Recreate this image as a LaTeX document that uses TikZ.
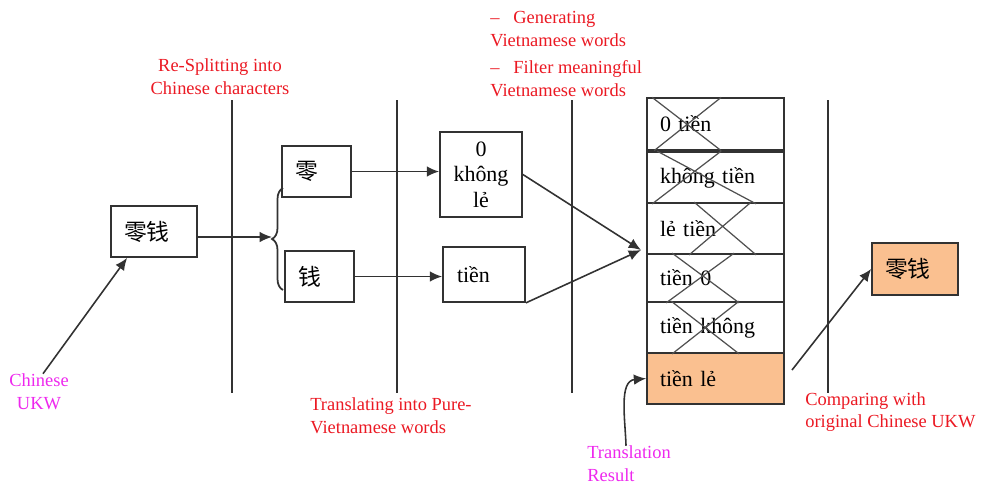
\documentclass[tikz,border=0pt]{standalone}
\usepackage{fontspec}
\setmainfont{Liberation Serif}
\newfontfamily\cjk{Noto Sans CJK SC}
\usepackage{tikz}
\usetikzlibrary{arrows.meta,decorations.pathreplacing}

\definecolor{edge}{RGB}{50,50,50}
\definecolor{crossgray}{RGB}{80,80,80}
\definecolor{peach}{RGB}{250,192,144}
\definecolor{notered}{RGB}{235,25,35}
\definecolor{notepink}{RGB}{238,40,238}

\begin{document}
\begin{tikzpicture}[x=0.02cm,y=-0.02cm,
    box/.style={draw=edge, line width=1pt, inner ysep=0pt, font=\fontsize{12.5}{14.5}\selectfont},
    hanzi/.style={box, align=left, inner xsep=0.26cm, font=\cjk\fontsize{13}{15}\selectfont},
    row/.style={box, align=left, text width=2.22cm, inner xsep=0.26cm},
    note/.style={text=notered, inner sep=0pt, font=\fontsize{10.5}{13}\selectfont},
    flow/.style={draw=edge, line width=0.9pt, -{Latex[length=7pt,width=6pt]}},
    stage/.style={draw=edge, line width=1pt},
    cross/.style={draw=crossgray, line width=0.7pt}]

    % Fix the page size
    \useasboundingbox (0,0) rectangle (983,485);

    % Draw the stage separators
    \foreach \x in {232,397,572,828}
        \draw[stage] (\x,100) -- (\x,393);

    % Input word and its two characters
    \node[hanzi, text width=1.2cm, minimum height=1.02cm] (src) at (154,231.5) {零钱};
    \node[hanzi, text width=0.86cm, minimum height=1.02cm] (ling) at (316.5,171.5) {零};
    \node[hanzi, text width=0.86cm, minimum height=1.02cm] (qian) at (319.5,276.5) {钱};

    % Pure-Vietnamese translations of each character
    \node[box, align=center, text width=1.4cm, inner xsep=0.12cm, minimum height=1.7cm] (khong) at (481,174.5) {0\\không\\lẻ};
    \node[box, align=left, text width=1.08cm, inner xsep=0.28cm, minimum height=1.1cm] (tien) at (484,274.5) {tiền};

    % Generated candidates, the last one kept
    \foreach \t/\y/\h [count=\i] in {0 tiền/124/1.03, không tiền/177.5/1.02, lẻ tiền/228.5/1.02, tiền 0/278/0.96, tiền không/327.5/1.02}
        \node[row, minimum height=\h cm] (r\i) at (715.5,\y) {\t};
    \node[row, fill=peach, minimum height=1.02cm] (r6) at (715.5,378.5) {tiền lẻ};

    % Cross out the rejected candidates
    \foreach \i/\a/\b/\c/\d in {1/6/75/75/8, 2/11/110/75/6, 3/48/110/105/43, 4/26/93/88/20, 5/25/93/93/26}
        \draw[cross] ([xshift=\a*0.02cm]r\i.north west) -- ([xshift=\b*0.02cm]r\i.south west)
                     ([xshift=\c*0.02cm]r\i.north west) -- ([xshift=\d*0.02cm]r\i.south west);

    % Final word
    \node[hanzi, fill=peach, text width=1.2cm, minimum height=1.04cm] (final) at (915,269) {零钱};

    % Stage notes
    \node[note, align=center] (split) at (220,77) {Re-Splitting into\\Chinese characters};
    \node[note, align=left, anchor=west] (pure) at (310,416) {Translating into Pure-\\Vietnamese words};
    \node[note, align=left, anchor=west] (gen) at (490,54) {\textendash\hspace{0.75em}Generating\\Vietnamese words\\[2.5pt]\textendash\hspace{0.75em}Filter meaningful\\Vietnamese words};
    \node[note, align=left, anchor=west] (cmp) at (805,412) {Comparing with\\original Chinese UKW};
    \node[note, text=notepink, align=center] (ukw) at (39,392) {Chinese\\UKW};
    \node[note, text=notepink, align=left, anchor=west] (res) at (587,464) {Translation\\Result};

    % Split the word with a brace
    \coordinate (fork) at (272,237);
    \draw[stage, decorate, decoration={brace, amplitude=0.22cm}] (283,290) -- (283,188);
    \draw[flow] (src.east |- fork) -- (fork);

    % Character to translation arrows
    \draw[flow] (ling.east) -- (ling.east -| khong.west);
    \draw[flow] (qian.east) -- (qian.east -| tien.west);

    % Both translations feed the candidate list
    \coordinate (merge) at (641,250);
    \draw[flow] (khong.east) -- (merge);
    \draw[flow] (tien.south east) -- (merge);

    % Pointers from the notes
    \draw[flow] ([xshift=0.08cm]ukw.north) -- ([xshift=0.34cm]src.south west);
    \draw[flow] ([xshift=-0.06cm]res.north) to[out=92,in=185] (r6.west);
    \coordinate (cmpstart) at (792,370);
    \draw[flow] (cmpstart) -- (final.west);

\end{tikzpicture}
\end{document}
